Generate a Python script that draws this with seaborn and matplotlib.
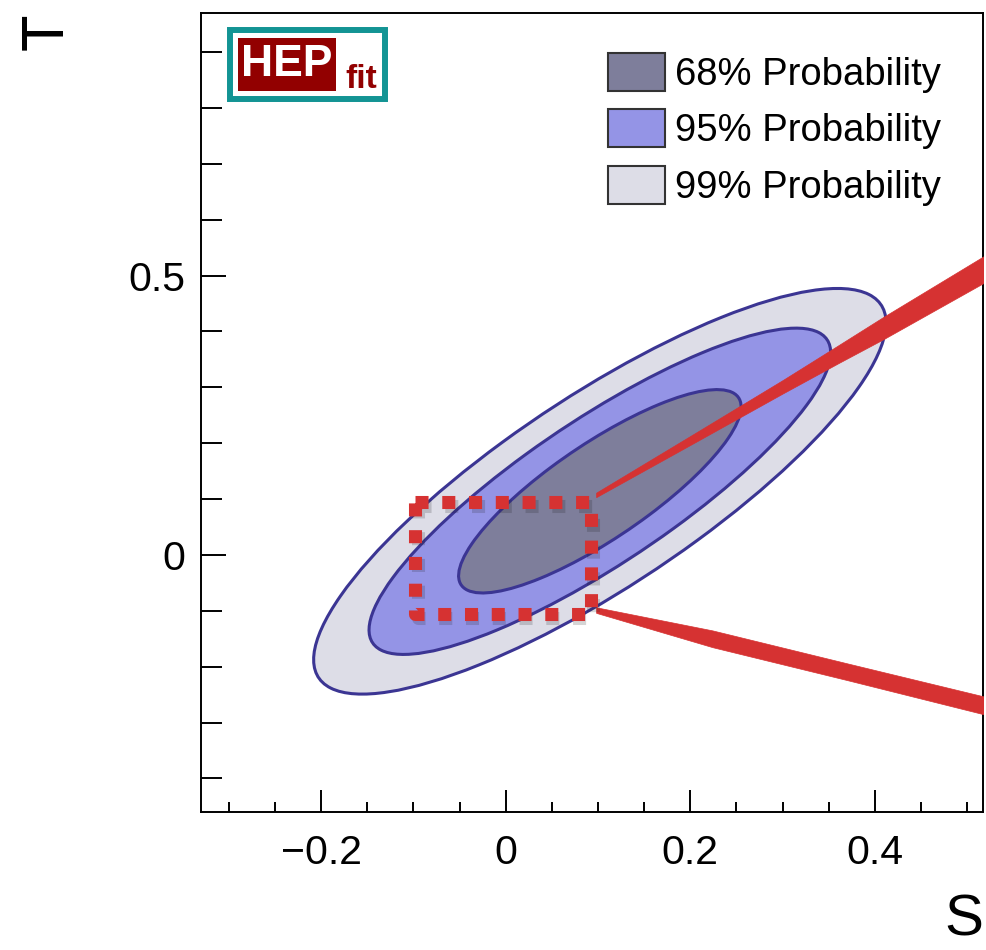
import numpy as np
import matplotlib
matplotlib.use('Agg')
import matplotlib.pyplot as plt
import matplotlib.patheffects as pe
from matplotlib.patches import Ellipse, Patch, Rectangle
from matplotlib.ticker import MultipleLocator
import seaborn as sns

# fit centre and contour sizes
center_S = 0.102
center_T = 0.114
level_labels = ['68% Probability', '95% Probability', '99% Probability']
level_colors = ['#7e7e9b', '#9494e6', '#dddde7']
half_S = [0.153, 0.250, 0.310]
half_T = [0.182, 0.292, 0.363]
rho = [0.83, 0.85, 0.83]

# red bands (upper and lower edge of each)
up_S = [0.098, 0.20, 0.30, 0.36, 0.41, 0.52]
up_T_lo = [0.1035, 0.197, 0.289, 0.343, 0.387, 0.489]
up_T_hi = [0.1115, 0.213, 0.313, 0.375, 0.427, 0.537]
low_S = [0.098, 0.224, 0.370, 0.52]
low_T_lo = [-0.1036, -0.165, -0.224, -0.286]
low_T_hi = [-0.0936, -0.135, -0.194, -0.254]

# dotted box
box_S = [-0.098, 0.092, 0.092, -0.098, -0.098]
box_T = [0.095, 0.095, -0.105, -0.105, 0.095]

sns.set_theme(style='ticks')
plt.rcParams['font.family'] = ['Liberation Sans', 'DejaVu Sans']
plt.rcParams['text.color'] = 'black'
plt.rcParams['axes.labelcolor'] = 'black'
plt.rcParams['axes.unicode_minus'] = True

fig = plt.figure(figsize=(9.86, 9.5), dpi=100)
ax = fig.add_axes([201 / 986, 1 - 812 / 950, 782 / 986, 799 / 950])

edge = '#3b3593'
# draw outer first
for i in [2, 1, 0]:
    a, b, r = half_S[i], half_T[i], rho[i]
    cov = np.array([[a * a, r * a * b], [r * a * b, b * b]])
    vals, vecs = np.linalg.eigh(cov)
    ang = np.degrees(np.arctan2(vecs[1, 1], vecs[0, 1]))
    e = Ellipse((center_S, center_T), 2 * np.sqrt(vals[1]), 2 * np.sqrt(vals[0]),
                angle=ang, facecolor=level_colors[i], edgecolor=edge, lw=2.2, zorder=2 + (2 - i))
    ax.add_patch(e)

red = '#d63232'
ax.fill_between(up_S, up_T_lo, up_T_hi, color=red, lw=0.5, zorder=6)
ax.fill_between(low_S, low_T_lo, low_T_hi, color=red, lw=0.5, zorder=6)

ax.plot(box_S, box_T, color=red, lw=9.4, linestyle=(0, (1, 1.05)), dash_capstyle='butt',
        zorder=7, path_effects=[pe.SimpleLineShadow(offset=(2, -3), shadow_color='k', alpha=0.18),
                                pe.Normal()])

ax.set_xlim(-0.33, 0.517)
ax.set_ylim(-0.46, 0.97)

ax.xaxis.set_major_locator(MultipleLocator(0.2))
ax.xaxis.set_minor_locator(MultipleLocator(0.05))
ax.yaxis.set_major_locator(MultipleLocator(0.5))
ax.yaxis.set_minor_locator(MultipleLocator(0.1))
ax.xaxis.set_major_formatter(plt.FuncFormatter(lambda v, p: '0' if abs(v) < 1e-9 else f'{v:g}'.replace('-', '\u2212')))
ax.yaxis.set_major_formatter(plt.FuncFormatter(lambda v, p: '0' if abs(v) < 1e-9 else f'{v:g}'))

ax.tick_params(axis='both', which='both', direction='in', top=False, right=False,
               labelsize=29.5, width=1.4, colors='black')
ax.tick_params(axis='x', which='major', length=16, pad=16)
ax.tick_params(axis='x', which='minor', length=7.5)
ax.tick_params(axis='y', which='major', length=18, pad=11)
ax.tick_params(axis='y', which='minor', length=15)
for s in ax.spines.values():
    s.set_linewidth(1.4)
    s.set_color('black')

ax.set_xlabel('S', loc='right', fontsize=42)
ax.set_ylabel('T', loc='top', fontsize=43)
ax.xaxis.set_label_coords(1.0, -0.1025)
ax.yaxis.set_label_coords(-0.161, 1.0)

handles = [Patch(facecolor=c, edgecolor='#333333', lw=1.5, label=l)
           for c, l in zip(level_colors, level_labels)]
ax.legend(handles=handles, loc='upper left', bbox_to_anchor=(608 / 986, 1 - 53 / 950),
          bbox_transform=fig.transFigure, frameon=False, fontsize=27.5,
          handlelength=1.5, handleheight=1.15, handletextpad=0.25, labelspacing=0.43,
          borderpad=0, borderaxespad=0)

# HEPfit logo
fig.add_artist(Rectangle((230 / 986, 1 - 99 / 950), 155 / 986, 69 / 950, transform=fig.transFigure,
                         facecolor='white', edgecolor='#139494', lw=4.3, zorder=10))
fig.add_artist(Rectangle((238 / 986, 1 - 91 / 950), 98 / 986, 53 / 950, transform=fig.transFigure,
                         facecolor='#920000', edgecolor='none', zorder=11))
fig.text(287 / 986, 1 - 65 / 950, 'HEP', color='white', fontsize=32, fontweight='bold',
         ha='center', va='center', zorder=12)
fig.text(361 / 986, 1 - 88 / 950, 'fit', color='#920000', fontsize=24, fontweight='bold',
         ha='center', va='baseline', zorder=12)

fig.savefig('out.png', dpi=100)
